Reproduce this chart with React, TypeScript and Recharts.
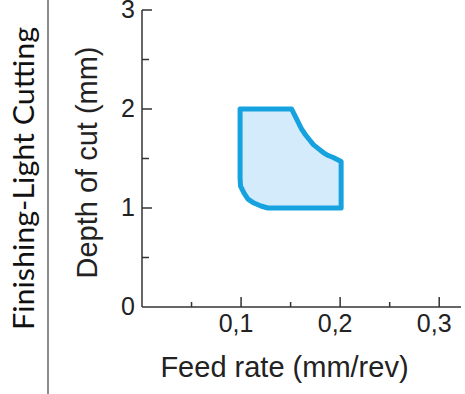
import { ScatterChart, Scatter, XAxis, YAxis } from 'recharts';

// outline of the finishing / light cutting zone, walked clockwise from the left edge
const feedRate = [
  0.099, 0.099, 0.151, 0.154, 0.158, 0.161, 0.165, 0.169, 0.173, 0.178, 0.183, 0.188, 0.193, 0.197, 0.201,
  0.201, 0.127, 0.12, 0.113, 0.107, 0.103, 0.0995, 0.099, 0.099,
];
const depthOfCut = [
  1.65, 2.0, 2.0, 1.94, 1.86, 1.8, 1.74, 1.69, 1.64, 1.6, 1.56, 1.53, 1.51, 1.49, 1.47,
  1.0, 1.0, 1.02, 1.05, 1.09, 1.15, 1.22, 1.3, 1.65,
];

const xTicks = [0.05, 0.1, 0.15, 0.2, 0.25, 0.3];
const xLabelled = [0.1, 0.2, 0.3];
const yTicks = [0, 0.5, 1, 1.5, 2, 2.5, 3];
const yLabelled = [0, 1, 2, 3];

const sideTitle = 'Finishing-Light Cutting';
const xTitle = 'Feed rate (mm/rev)';
const yTitle = 'Depth of cut (mm)';

const axisColor = '#333';
const textColor = '#222';
const font = '"Liberation Sans", Arial, sans-serif';

const data = feedRate.map((x, i) => ({ x, y: depthOfCut[i] }));

const isIn = (list: number[], v: number) => list.some((t) => Math.abs(t - v) < 1e-9);

const XTick = (props: any) => {
  const { x, y, payload } = props;
  const major = isIn(xLabelled, payload.value);
  return (
    <g>
      <line x1={x} x2={x} y1={y} y2={y - (major ? 10 : 5)} stroke={axisColor} strokeWidth={1.5} />
      {major && (
        <text x={x - 5} y={y + 25} textAnchor="middle" fill={textColor} fontSize={25} fontFamily={font}>
          {payload.value.toFixed(1).replace('.', ',')}
        </text>
      )}
    </g>
  );
};

const YTick = (props: any) => {
  const { x, y, payload } = props;
  const major = isIn(yLabelled, payload.value);
  return (
    <g>
      {payload.value !== 0 && (
        <line x1={x} x2={x + (major ? 10 : 7)} y1={y} y2={y} stroke={axisColor} strokeWidth={1.5} />
      )}
      {major && (
        <text x={x - 7} y={y + 8} textAnchor="end" fill={textColor} fontSize={25} fontFamily={font}>
          {payload.value}
        </text>
      )}
    </g>
  );
};

const XTitle = (props: any) => {
  const vb = props.viewBox || { x: 142, y: 307, width: 319 };
  return (
    <text x={vb.x + vb.width / 2 - 17} y={vb.y + 70} textAnchor="middle" fill={textColor} fontSize={29} fontFamily={font}>
      {xTitle}
    </text>
  );
};

const YTitle = (props: any) => {
  const vb = props.viewBox || { x: 0, y: 10, width: 142, height: 297 };
  const cx = vb.x + 96.5;
  const cy = vb.y + vb.height / 2 + 4;
  return (
    <text x={cx} y={cy} transform={`rotate(-90, ${cx}, ${cy})`} textAnchor="middle" fill={textColor} fontSize={29} fontFamily={font}>
      {yTitle}
    </text>
  );
};

export default function App() {
  return (
    <div style={{ position: 'absolute', left: 0, top: 0, width: 465, height: 394, background: '#fff' }}>
      <ScatterChart width={465} height={394} margin={{ top: 10, right: 4, left: 0, bottom: 0 }}>
        <XAxis
          type="number"
          dataKey="x"
          domain={[0, 0.322]}
          ticks={xTicks}
          interval={0}
          height={87}
          tickSize={0}
          tickMargin={0}
          tickLine={false}
          tick={<XTick />}
          axisLine={{ stroke: axisColor, strokeWidth: 1.5 }}
          label={{ value: xTitle, content: XTitle }}
        />
        <YAxis
          type="number"
          dataKey="y"
          domain={[0, 3]}
          ticks={yTicks}
          interval={0}
          width={142}
          tickSize={0}
          tickMargin={0}
          tickLine={false}
          tick={<YTick />}
          axisLine={{ stroke: axisColor, strokeWidth: 1.5 }}
          label={{ value: yTitle, content: YTitle }}
        />
        <Scatter
          data={data}
          isAnimationActive={false}
          line={{ fill: '#d4ebfb', stroke: '#16a1df', strokeWidth: 5, strokeLinejoin: 'round' }}
          lineType="joint"
          shape={() => <g />}
        />
      </ScatterChart>
      <svg width={465} height={394} style={{ position: 'absolute', left: 0, top: 0, pointerEvents: 'none' }}>
        <line x1={48} x2={48} y1={0} y2={394} stroke="#8c8c8c" strokeWidth={2} />
        <text
          x={33.5}
          y={178.5}
          transform="rotate(-90, 33.5, 178.5)"
          textAnchor="middle"
          fill="#111"
          fontSize={29}
          fontFamily="Lato, 'Open Sans', sans-serif"
          textLength={303}
          lengthAdjust="spacingAndGlyphs"
        >
          {sideTitle}
        </text>
      </svg>
    </div>
  );
}
